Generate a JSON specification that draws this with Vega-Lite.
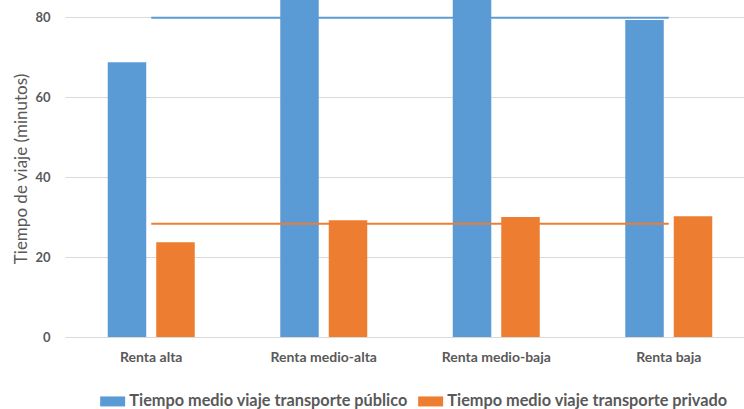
{
  "$schema": "https://vega.github.io/schema/vega-lite/v6.json",
  "autosize": {"type": "none"},
  "padding": {"left": 65, "top": 0, "right": 0, "bottom": 72},
  "width": 679,
  "height": 337,
  "background": "white",
  "config": {
    "view": {"stroke": null},
    "font": "Lato",
    "axis": {"labelColor": "#595959", "titleColor": "#595959"}
  },
  "datasets": {
    "bars": [
      {"renta": "Renta alta", "serie": "Tiempo medio viaje transporte público", "minutos": 68.7},
      {"renta": "Renta alta", "serie": "Tiempo medio viaje transporte privado", "minutos": 23.7},
      {"renta": "Renta medio-alta", "serie": "Tiempo medio viaje transporte público", "minutos": 86.0},
      {"renta": "Renta medio-alta", "serie": "Tiempo medio viaje transporte privado", "minutos": 29.2},
      {"renta": "Renta medio-baja", "serie": "Tiempo medio viaje transporte público", "minutos": 85.4},
      {"renta": "Renta medio-baja", "serie": "Tiempo medio viaje transporte privado", "minutos": 30.0},
      {"renta": "Renta baja", "serie": "Tiempo medio viaje transporte público", "minutos": 79.25},
      {"renta": "Renta baja", "serie": "Tiempo medio viaje transporte privado", "minutos": 30.2}
    ],
    "medias": [
      {"desde": "Renta alta", "hasta": "Renta baja", "serie": "Tiempo medio viaje transporte público", "media": 79.8},
      {"desde": "Renta alta", "hasta": "Renta baja", "serie": "Tiempo medio viaje transporte privado", "media": 28.3}
    ]
  },
  "layer": [
    {
      "data": {"name": "bars"},
      "mark": {"type": "bar", "clip": true},
      "encoding": {
        "x": {
          "field": "renta", "type": "nominal", "sort": null,
          "scale": {"range": [0, 690], "paddingInner": 0.4957, "paddingOuter": 0.2478},
          "axis": {
            "title": null, "domain": false, "ticks": false, "labelAngle": 0,
            "labelFontSize": 14, "labelFontWeight": "bold", "labelPadding": 13
          }
        },
        "xOffset": {
          "field": "serie", "type": "nominal", "sort": null,
          "scale": {"paddingInner": 0.206, "paddingOuter": 0}
        },
        "y": {
          "field": "minutos", "type": "quantitative",
          "scale": {"domain": [0, 84.26], "nice": false, "zero": true},
          "axis": {
            "title": "Tiempo de viaje (minutos)", "values": [0, 20, 40, 60, 80],
            "domain": false, "ticks": false, "grid": true, "gridColor": "#D9D9D9", "gridWidth": 1,
            "labelFontSize": 13, "labelFontWeight": "bold", "labelPadding": 15,
            "titleFontSize": 17, "titleFontWeight": "normal", "titlePadding": 4
          }
        },
        "color": {
          "field": "serie", "type": "nominal", "sort": null,
          "scale": {"range": ["#5B9BD5", "#ED7D31"]},
          "legend": {
            "title": null, "orient": "none", "direction": "horizontal",
            "legendX": 32, "legendY": 393,
            "symbolType": "M-1,-1H4V1H-1Z", "symbolSize": 100,
            "symbolStrokeWidth": 0, "labelOffset": 16, "columnPadding": 7,
            "labelFontSize": 16.3, "labelFontWeight": "bold", "labelColor": "#595959", "labelLimit": 400
          }
        }
      }
    },
    {
      "data": {"name": "medias"},
      "mark": {"type": "rule", "strokeWidth": 2},
      "encoding": {
        "x": {"field": "desde", "type": "nominal", "sort": null, "bandPosition": 0.5},
        "x2": {"field": "hasta"},
        "y": {"field": "media", "type": "quantitative"},
        "color": {"field": "serie", "type": "nominal", "sort": null, "legend": null}
      }
    }
  ]
}
